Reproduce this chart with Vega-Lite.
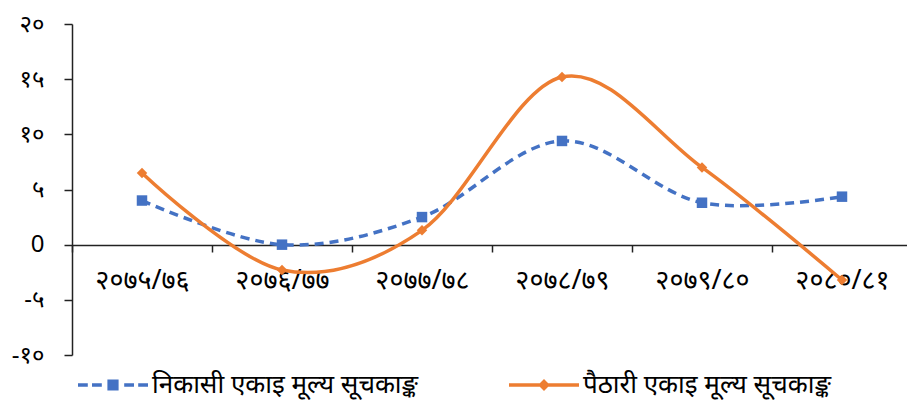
{
  "$schema": "https://vega.github.io/schema/vega-lite/v6.json",
  "autosize": {"type": "none"},
  "padding": {"left": 72, "top": 24, "right": 0, "bottom": 45},
  "width": 840,
  "height": 331,
  "background": "white",
  "config": {
    "view": {"stroke": null},
    "font": "Noto Sans",
    "axis": {"grid": false, "domainColor": "#222", "tickColor": "#222", "domainWidth": 1.5, "tickWidth": 1.5, "labelColor": "#000", "labelFontSize": 24, "labelFont": "Noto Sans"},
    "legend": {"labelFontSize": 26, "labelColor": "#000", "labelFont": "Noto Sans"}
  },
  "data": {
    "values": [
      {"year": "२०७५/७६", "series": "निकासी एकाइ मूल्य सूचकाङ्क", "value": 4.0},
      {"year": "२०७६/७७", "series": "निकासी एकाइ मूल्य सूचकाङ्क", "value": 0.0},
      {"year": "२०७७/७८", "series": "निकासी एकाइ मूल्य सूचकाङ्क", "value": 2.5},
      {"year": "२०७८/७९", "series": "निकासी एकाइ मूल्य सूचकाङ्क", "value": 9.4},
      {"year": "२०७९/८०", "series": "निकासी एकाइ मूल्य सूचकाङ्क", "value": 3.8},
      {"year": "२०८०/८१", "series": "निकासी एकाइ मूल्य सूचकाङ्क", "value": 4.35},
      {"year": "२०७५/७६", "series": "पैठारी एकाइ मूल्य सूचकाङ्क", "value": 6.5},
      {"year": "२०७६/७७", "series": "पैठारी एकाइ मूल्य सूचकाङ्क", "value": -2.3},
      {"year": "२०७७/७८", "series": "पैठारी एकाइ मूल्य सूचकाङ्क", "value": 1.3},
      {"year": "२०७८/७९", "series": "पैठारी एकाइ मूल्य सूचकाङ्क", "value": 15.2},
      {"year": "२०७९/८०", "series": "पैठारी एकाइ मूल्य सूचकाङ्क", "value": 7.0},
      {"year": "२०८०/८१", "series": "पैठारी एकाइ मूल्य सूचकाङ्क", "value": -3.2}
    ]
  },
  "encoding": {
    "x": {
      "field": "year", "type": "nominal",
      "sort": ["२०७५/७६", "२०७६/७७", "२०७७/७८", "२०७८/७९", "२०७९/८०", "२०८०/८१"],
      "scale": {"type": "band", "paddingInner": 0, "paddingOuter": 0},
      "axis": {"title": null, "orient": "bottom", "offset": -110, "tickBand": "extent", "tickSize": 7, "labelPadding": 15, "labelAngle": 0, "labelFontSize": 27}
    },
    "y": {
      "field": "value", "type": "quantitative",
      "scale": {"domain": [-10, 20], "nice": false, "zero": false},
      "axis": {"title": null, "values": [-10, -5, 0, 5, 10, 15, 20], "tickSize": 8, "labelPadding": 20,
        "labelExpr": "datum.value == 20 ? '२०' : datum.value == 15 ? '१५' : datum.value == 10 ? '१०' : datum.value == 5 ? '५' : datum.value == 0 ? '0' : datum.value == -5 ? '-५' : '-१०'"}
    }
  },
  "layer": [
    {
      "transform": [{"filter": "datum.series == 'निकासी एकाइ मूल्य सूचकाङ्क'"}],
      "mark": {"type": "line", "color": "#4472C4", "strokeWidth": 3.5, "strokeDash": [9, 6], "interpolate": "cardinal"}
    },
    {
      "transform": [{"filter": "datum.series == 'निकासी एकाइ मूल्य सूचकाङ्क'"}],
      "mark": {"type": "point", "shape": "square", "filled": true, "opacity": 1, "color": "#4472C4", "size": 110}
    },
    {
      "transform": [{"filter": "datum.series == 'पैठारी एकाइ मूल्य सूचकाङ्क'"}],
      "mark": {"type": "line", "color": "#ED7D31", "strokeWidth": 3.5, "interpolate": "cardinal"}
    },
    {
      "transform": [{"filter": "datum.series == 'पैठारी एकाइ मूल्य सूचकाङ्क'"}],
      "mark": {"type": "point", "shape": "diamond", "filled": true, "opacity": 1, "color": "#ED7D31", "size": 110}
    },
    {
      "mark": {"type": "point", "filled": true, "opacity": 0},
      "encoding": {
        "color": {
          "field": "series", "type": "nominal",
          "scale": {"domain": ["निकासी एकाइ मूल्य सूचकाङ्क", "पैठारी एकाइ मूल्य सूचकाङ्क"], "range": ["#4472C4", "#ED7D31"]},
          "legend": {"title": null, "orient": "none", "legendX": 6, "legendY": 326, "direction": "horizontal", "symbolSize": 4900, "symbolOpacity": 1, "symbolStrokeWidth": 0, "columnPadding": 90, "labelOffset": 4, "labelLimit": 400, "padding": 0}
        },
        "shape": {
          "field": "series", "type": "nominal",
          "scale": {"domain": ["निकासी एकाइ मूल्य सूचकाङ्क", "पैठारी एकाइ मूल्य सूचकाङ्क"],
            "range": [
              "M-1,-0.05L-0.72,-0.05L-0.72,0.05L-1,0.05Z M-0.6,-0.05L-0.32,-0.05L-0.32,0.05L-0.6,0.05Z M-0.16,-0.16L0.16,-0.16L0.16,0.16L-0.16,0.16Z M0.32,-0.05L0.6,-0.05L0.6,0.05L0.32,0.05Z M0.72,-0.05L1,-0.05L1,0.05L0.72,0.05Z",
              "M-1,-0.05L1,-0.05L1,0.05L-1,0.05Z M0,-0.17L0.17,0L0,0.17L-0.17,0Z"
            ]},
          "legend": {"title": null, "orient": "none", "legendX": 6, "legendY": 326, "direction": "horizontal", "symbolSize": 4900, "symbolOpacity": 1, "symbolStrokeWidth": 0, "columnPadding": 90, "labelOffset": 4, "labelLimit": 400, "padding": 0}
        }
      }
    }
  ]
}
